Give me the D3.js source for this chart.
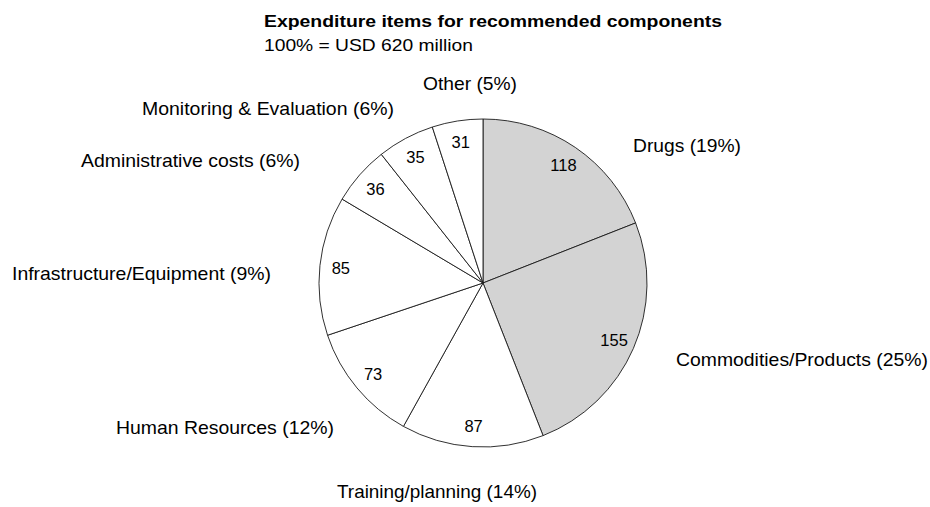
<!DOCTYPE html>
<html>
<head>
<meta charset="utf-8">
<script src="https://cdn.jsdelivr.net/npm/d3@7/dist/d3.min.js"></script>
<style>
  html, body { margin: 0; padding: 0; background: #fff; }
  svg { display: block; font-family: "Liberation Sans", Arial, sans-serif; }
</style>
</head>
<body>
<svg id="chart" width="930" height="507"></svg>
<script>
// Expenditure items (USD million), clockwise from 12 o'clock
const categories = [
  "Drugs",
  "Commodities/Products",
  "Training/planning",
  "Human Resources",
  "Infrastructure/Equipment",
  "Administrative costs",
  "Monitoring & Evaluation",
  "Other"
];
const amounts = [118, 155, 87, 73, 85, 36, 35, 31];
const shareLabels = ["19%", "25%", "14%", "12%", "9%", "6%", "6%", "5%"];
const shaded = ["Drugs", "Commodities/Products"];

const titleText = "Expenditure items for recommended components";
const subtitleText = "100% = USD 620 million";

// Placement of the category captions: [left x, right x, baseline]
const captionBox = {
  "Drugs": [633, 741, 152],
  "Commodities/Products": [676, 928, 366],
  "Training/planning": [337, 537, 498],
  "Human Resources": [116, 334, 434],
  "Infrastructure/Equipment": [12, 271, 280],
  "Administrative costs": [81, 300, 167],
  "Monitoring & Evaluation": [142, 394, 115],
  "Other": [423, 517, 90]
};

const svg = d3.select("#chart");
const cx = 483, cy = 283, radius = 164;

// Title block
svg.append("text")
  .attr("x", 264).attr("y", 27)
  .attr("font-size", 16.5).attr("font-weight", "bold")
  .attr("fill", "#000")
  .attr("textLength", 458).attr("lengthAdjust", "spacingAndGlyphs")
  .text(titleText);
svg.append("text")
  .attr("x", 264).attr("y", 51)
  .attr("font-size", 17)
  .attr("fill", "#000")
  .attr("textLength", 209).attr("lengthAdjust", "spacingAndGlyphs")
  .text(subtitleText);

const rows = categories.map((c, i) => ({ name: c, value: amounts[i], share: shareLabels[i] }));

const pie = d3.pie().sort(null).value(d => d.value);
const arcs = pie(rows);

const arc = d3.arc().innerRadius(0).outerRadius(radius);
const labelArc = d3.arc().innerRadius(143).outerRadius(143);

const g = svg.append("g").attr("transform", `translate(${cx},${cy})`);

g.selectAll("path.slice")
  .data(arcs)
  .join("path")
  .attr("class", "slice")
  .attr("d", arc)
  .attr("fill", d => shaded.includes(d.data.name) ? "#d3d3d3" : "#ffffff")
  .attr("stroke", "#1a1a1a")
  .attr("stroke-width", 0.9)
  .attr("stroke-linejoin", "round");

// Amounts inside the slices
g.selectAll("text.amount")
  .data(arcs)
  .join("text")
  .attr("class", "amount")
  .attr("transform", d => `translate(${labelArc.centroid(d)})`)
  .attr("text-anchor", "middle")
  .attr("dy", "0.36em")
  .attr("font-size", 16.5)
  .attr("fill", "#000")
  .text(d => d.data.value);

// Category captions with shares
svg.selectAll("text.caption")
  .data(arcs)
  .join("text")
  .attr("class", "caption")
  .attr("x", d => captionBox[d.data.name][0])
  .attr("y", d => captionBox[d.data.name][2])
  .attr("textLength", d => captionBox[d.data.name][1] - captionBox[d.data.name][0])
  .attr("lengthAdjust", "spacingAndGlyphs")
  .attr("font-size", 18.5)
  .attr("fill", "#000")
  .text(d => `${d.data.name} (${d.data.share})`);
</script>
</body>
</html>
